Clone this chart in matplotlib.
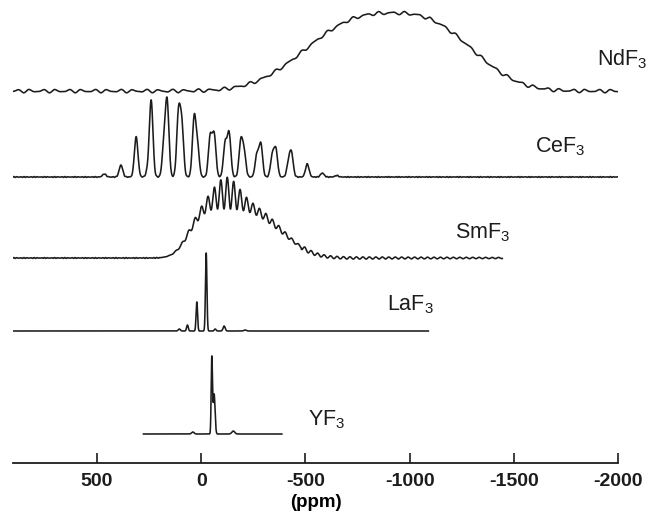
import numpy as np
import matplotlib
matplotlib.use("Agg")
import matplotlib.pyplot as plt

plt.rcParams['font.family'] = ['Liberation Sans', 'DejaVu Sans']
plt.rcParams['mathtext.fontset'] = 'custom'
plt.rcParams['mathtext.rm'] = 'Liberation Sans'
plt.rcParams['mathtext.it'] = 'Liberation Sans:italic'
plt.rcParams['mathtext.bf'] = 'Liberation Sans:bold'

# ---------------- data ----------------
samples = ["NdF$_3$", "CeF$_3$", "SmF$_3$", "LaF$_3$", "YF$_3$"]
tick_values = [500, 0, -500, -1000, -1500, -2000]
x_label = "(ppm)"

# spectral windows (ppm, left -> right)
nd_range = [903, -2000]
ce_range = [903, -2000]
sm_range = [903, -1445]
la_range = [903, -1090]
yf_range = [277, -387]

# NdF3: one broad, flat-topped line with a small periodic ripple
nd_center = -920
nd_height = 78
nd_width_left = 500
nd_width_right = 452
nd_shape = 2.7
nd_ripple_period = [62, 41]
nd_ripple_amp = [1.2, 0.6]

# CeF3: spinning sideband manifold (doublets)
ce_pos = [465, 385, 312, 256, 240, 178, 163, 109, 93, 34, 18, -43, -62,
          -115, -134, -190, -206, -267, -286, -341, -358, -419, -433, -509,
          -581, -650]
ce_height = [3, 12, 40, 6, 76, 34, 71, 62, 50, 57, 30, 40, 42,
             33, 43, 35, 24, 22, 33, 21, 27, 13, 23, 13,
             4, 1.5]
ce_sigma = 8.5
grass_amp = 0.45
grass_period = 14

# SmF3: broad envelope with spinning sidebands
sm_center = -95
sm_height = 49
sm_width_left = 170
sm_width_right = 330
sm_shape = 3
sm_sb_spacing = 31
sm_sb_ref = -125
sm_mod_center = -122
sm_mod_height = 22
sm_mod_width = 55
sm_mod_floor = 0.2
sm_tail_amp = [1.3, 0.6]   # ripple amplitude at -480 and at -1445 ppm

# LaF3: narrow lines
la_pos = [105, 66, 21, -24, -67, -110, -211]
la_height = [2, 6, 29, 78, 2, 5, 1]
la_sigma = [5, 4, 3.5, 3.5, 4, 5, 6]

# YF3: narrow lines
yf_pos = [40, -51, -62, -154]
yf_height = [2, 76, 40, 3]
yf_sigma = [6, 3.0, 4.5, 7]

# ---------------- layout ----------------
offsets = [372, 286, 205, 132, 29]
label_pos = [(-1900, 398), (-1603, 311), (-1219, 225), (-893, 153), (-513, 38)]
line_color = '#1c1c1c'
lw = 1.15


def gauss(x, c, h, s):
    return h * np.exp(-0.5 * ((x - c) / s) ** 2)


def flat_top(x, c, h, wl, wr, p):
    d = x - c
    w = np.where(d > 0, wl, wr)
    return h * np.exp(-np.abs(d / w) ** p)


def grass(x):
    return grass_amp * np.sin(2 * np.pi * x / grass_period) * np.sin(2 * np.pi * x / 97)


fig = plt.figure(figsize=(6.56, 5.14), dpi=100)
ax = fig.add_axes([13 / 656, 51 / 514, 605 / 656, 463 / 514])

# NdF3
x = np.linspace(nd_range[0], nd_range[1], 3000)
y = flat_top(x, nd_center, nd_height, nd_width_left, nd_width_right, nd_shape)
for per, amp in zip(nd_ripple_period, nd_ripple_amp):
    y = y + amp * np.sin(2 * np.pi * x / per)
ax.plot(x, y + offsets[0], color=line_color, lw=lw)

# CeF3
x = np.linspace(ce_range[0], ce_range[1], 6000)
y = grass(x)
for c, h in zip(ce_pos, ce_height):
    y += gauss(x, c, h, ce_sigma)
ax.plot(x, y + offsets[1], color=line_color, lw=lw)

# SmF3
x = np.linspace(sm_range[0], sm_range[1], 6000)
base = flat_top(x, sm_center, sm_height, sm_width_left, sm_width_right, sm_shape)
mod = gauss(x, sm_mod_center, sm_mod_height, sm_mod_width) + sm_mod_floor * base
tail = np.where(x < -480,
                sm_tail_amp[0] + (sm_tail_amp[1] - sm_tail_amp[0]) * (x + 480) / (sm_range[1] + 480),
                0.0)
comb = np.cos(2 * np.pi * (x - sm_sb_ref) / sm_sb_spacing)
y = base + mod * (1 + comb) / 2 + tail * comb + np.where(x > 200, grass(x), 0.0)
ax.plot(x, y + offsets[2], color=line_color, lw=lw)

# LaF3
x = np.linspace(la_range[0], la_range[1], 8000)
y = np.zeros_like(x)
for c, h, s in zip(la_pos, la_height, la_sigma):
    y += gauss(x, c, h, s)
ax.plot(x, y + offsets[3], color=line_color, lw=lw)

# YF3
x = np.linspace(yf_range[0], yf_range[1], 4000)
y = np.zeros_like(x)
for c, h, s in zip(yf_pos, yf_height, yf_sigma):
    y += gauss(x, c, h, s)
ax.plot(x, y + offsets[4], color=line_color, lw=lw)

for name, (px, py) in zip(samples, label_pos):
    ax.text(px, py, name, fontsize=15.5, color='#1c1c1c', ha='left', va='baseline')

ax.set_xlim(903, -2000)
ax.set_ylim(0, 463)
for s in ['left', 'right', 'top']:
    ax.spines[s].set_visible(False)
ax.spines['bottom'].set_linewidth(1.3)
ax.spines['bottom'].set_color('#1c1c1c')
ax.set_yticks([])
ax.set_xticks(tick_values)
ax.set_xticklabels([str(v) for v in tick_values], fontweight='bold', fontsize=14)
ax.tick_params(axis='x', direction='in', length=7, width=1.2, pad=7, colors='#1c1c1c')
ax.set_xlabel(x_label, fontweight='bold', fontsize=13.5, labelpad=3)

fig.savefig('out.png', dpi=100)
